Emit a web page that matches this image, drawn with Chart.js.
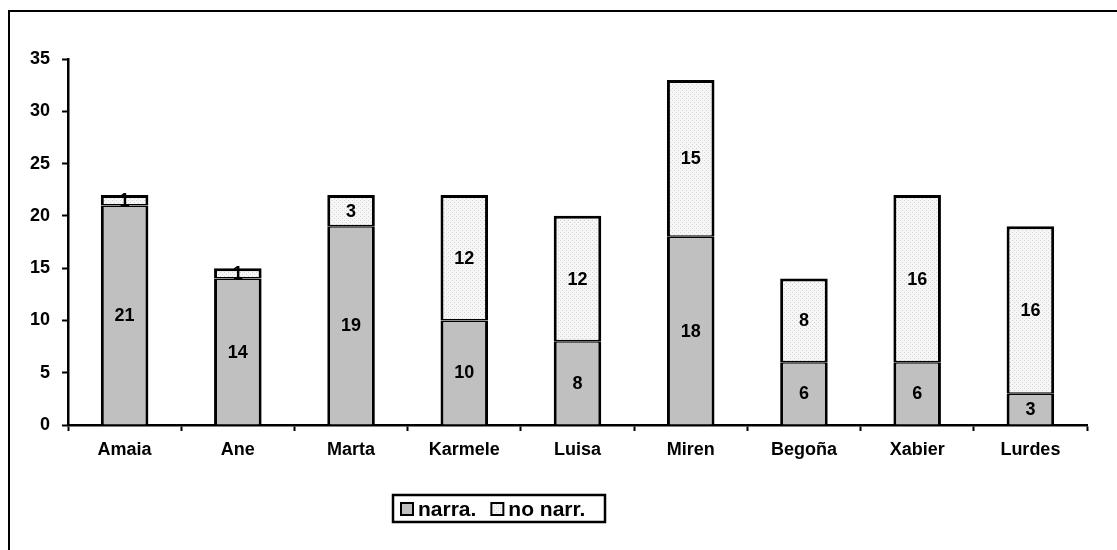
<!DOCTYPE html>
<html>
<head>
<meta charset="utf-8">
<script src="https://cdn.jsdelivr.net/npm/chart.js@4.4.1/dist/chart.umd.min.js"></script>
<style>
  html, body { margin: 0; padding: 0; background: #fff; overflow: hidden; }
  #frame { position: absolute; left: 8px; top: 10px; width: 1200px; height: 700px; border: 2px solid #000; }
  #wrap { position: absolute; left: 0; top: 0; width: 1117px; height: 550px; }
</style>
</head>
<body>
<div id="frame"></div>
<div id="wrap"><canvas id="chart" width="1117" height="550"></canvas></div>
<script>
// Datos
const personas = ["Amaia", "Ane", "Marta", "Karmele", "Luisa", "Miren", "Begoña", "Xabier", "Lurdes"];
const narra = [21, 14, 19, 10, 8, 18, 6, 6, 3];
const noNarr = [1, 1, 3, 12, 12, 15, 8, 16, 16];
const yTicks = [0, 5, 10, 15, 20, 25, 30, 35];

const FONT = "'Liberation Sans', Arial, sans-serif";

// patrón punteado para "no narr."
function dotPattern() {
  const c = document.createElement("canvas");
  c.width = 4;
  c.height = 4;
  const g = c.getContext("2d");
  g.fillStyle = "#f6f6f6";
  g.fillRect(0, 0, 4, 4);
  g.fillStyle = "#d4d4d4";
  g.fillRect(0, 0, 1, 1);
  g.fillRect(2, 2, 1, 1);
  return g.createPattern(c, "repeat");
}
const pattern = dotPattern();

// etiquetas dentro de las barras
const valueLabels = {
  id: "valueLabels",
  afterDatasetsDraw(chart) {
    const ctx = chart.ctx;
    ctx.save();
    ctx.font = "bold 18px " + FONT;
    ctx.fillStyle = "#000";
    ctx.textAlign = "center";
    ctx.textBaseline = "middle";
    chart.data.datasets.forEach((ds, i) => {
      chart.getDatasetMeta(i).data.forEach((bar, j) => {
        ctx.fillText(String(ds.data[j]), bar.x, (bar.y + bar.base) / 2 + 1);
      });
    });
    ctx.restore();
  },
};

// leyenda con marco (como en Excel)
const boxLegend = {
  id: "boxLegend",
  afterDraw(chart) {
    const ctx = chart.ctx;
    ctx.save();
    ctx.lineWidth = 2.5;
    ctx.strokeStyle = "#000";
    ctx.strokeRect(393, 495, 212, 27);
    ctx.font = "bold 21px " + FONT;
    ctx.textBaseline = "middle";
    let x = 401;
    chart.data.datasets.forEach((ds) => {
      ctx.fillStyle = ds.backgroundColor;
      ctx.fillRect(x, 503, 12, 12);
      ctx.lineWidth = 2;
      ctx.strokeRect(x, 503, 12, 12);
      ctx.fillStyle = "#000";
      ctx.fillText(ds.label, x + 17, 510);
      x += 17 + ctx.measureText(ds.label).width + 15;
    });
    ctx.restore();
  },
};

new Chart(document.getElementById("chart"), {
  type: "bar",
  data: {
    labels: personas,
    datasets: [
      {
        label: "narra.",
        data: narra,
        backgroundColor: "#c0c0c0",
        borderColor: "#000",
        borderWidth: { left: 3, right: 3, bottom: 0, top: 1.5 },
        borderSkipped: false,
      },
      {
        label: "no narr.",
        data: noNarr,
        backgroundColor: pattern,
        borderColor: "#000",
        borderWidth: { left: 3, right: 3, bottom: 1.5, top: 3 },
        borderSkipped: false,
      },
    ],
  },
  options: {
    responsive: false,
    animation: false,
    layout: { padding: { left: 0, right: 30, top: 59, bottom: 0 } },
    datasets: { bar: { categoryPercentage: 1, barPercentage: 0.42 } },
    plugins: {
      legend: { display: false },
      tooltip: { enabled: false },
    },
    scales: {
      x: {
        stacked: true,
        grid: {
          offset: true,
          drawOnChartArea: false,
          drawTicks: true,
          tickLength: 6,
          tickWidth: 2,
          color: "#000",
        },
        border: { color: "#000", width: 2.5 },
        ticks: {
          color: "#000",
          font: { family: FONT, size: 18, weight: "bold" },
          padding: 8,
          maxRotation: 0,
        },
        afterFit(scale) {
          scale.height = 125;
        },
      },
      y: {
        stacked: true,
        min: 0,
        max: 35,
        afterBuildTicks(scale) {
          scale.ticks = yTicks.map((v) => ({ value: v }));
        },
        grid: {
          drawOnChartArea: false,
          drawTicks: true,
          tickLength: 6,
          tickWidth: 2,
          color: "#000",
        },
        border: { color: "#000", width: 2.5 },
        ticks: {
          color: "#000",
          font: { family: FONT, size: 18, weight: "bold" },
          padding: 12,
        },
        afterFit(scale) {
          scale.width = 68;
        },
      },
    },
  },
  plugins: [valueLabels, boxLegend],
});
</script>
</body>
</html>
